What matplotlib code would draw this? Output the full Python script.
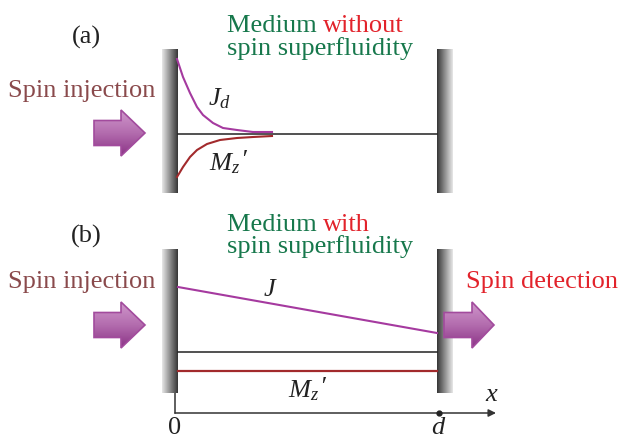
import numpy as np
import matplotlib
matplotlib.use("Agg")
import matplotlib.pyplot as plt
from matplotlib.patches import Polygon

plt.rcParams["font.family"] = "Liberation Serif"
plt.rcParams["mathtext.fontset"] = "custom"
plt.rcParams["mathtext.rm"] = "Liberation Serif"
plt.rcParams["mathtext.it"] = "Liberation Serif:italic"

# canvas is laid out in pixel units of the 621x440 picture (y grows downward)
X_LEFT, X_RIGHT = 178, 437          # inner faces of the two walls (x = 0 and x = d)
WALL_W = 16
PANEL_TOP = [49, 249]               # wall tops for (a), (b)
PANEL_BOT = [193, 393]

# (a) decaying profiles
decay_x = [177, 183, 190, 197, 203, 213, 223, 237, 253, 272]
jd_y = [59, 77, 93, 107, 115, 123, 128, 130, 132, 132]
mz_x = [177, 183, 190, 197, 207, 220, 237, 253, 272]
mz_y = [177, 167, 157, 150, 144, 140, 138, 137, 136]
baseline_a = 134

# (b) linear current and flat magnetisation
j_line_x = [178, 437]
j_line_y = [287, 333]
baseline_b = 352
mz_flat_y = 371

# spin arrows: (left x, neck x, tip x, centre y)
arrows = [(94, 121, 145, 133), (94, 121, 145, 325), (444, 472, 494, 325)]

C_GREEN = "#17784c"
C_RED = "#e2232b"
C_BROWN = "#8a4a4c"
C_J = "#a53a9f"
C_M = "#a22a2c"
C_TXT = "#222222"

fig = plt.figure(figsize=(6.21, 4.40), dpi=100)
ax = fig.add_axes([0, 0, 1, 1])
ax.set_xlim(0, 621)
ax.set_ylim(440, 0)
ax.axis("off")

# walls with shading, dark side towards the medium
grad = np.linspace(0.90, 0.22, 32).reshape(1, -1)
for top, bot in zip(PANEL_TOP, PANEL_BOT):
    ax.imshow(grad, cmap="gray", vmin=0, vmax=1, aspect="auto",
              extent=(X_LEFT - WALL_W, X_LEFT, bot, top), zorder=2)
    ax.imshow(grad[:, ::-1], cmap="gray", vmin=0, vmax=1, aspect="auto",
              extent=(X_RIGHT, X_RIGHT + WALL_W, bot, top), zorder=2)

# (a)
ax.plot([X_LEFT, X_RIGHT], [baseline_a, baseline_a], color=C_TXT, lw=1.1, zorder=3)
ax.plot(decay_x, jd_y, color=C_J, lw=1.5, zorder=3)
ax.plot(mz_x, mz_y, color=C_M, lw=1.5, zorder=3)

# (b)
ax.plot(j_line_x, j_line_y, color=C_J, lw=1.5, zorder=3)
ax.plot([X_LEFT, X_RIGHT], [baseline_b, baseline_b], color=C_TXT, lw=1.1, zorder=3)
ax.plot([X_LEFT, X_RIGHT], [mz_flat_y, mz_flat_y], color=C_M, lw=1.6, zorder=3)

# x axis under panel (b)
axis_y = 413
ax.plot([175, 175], [PANEL_BOT[1], axis_y], color="#333333", lw=1.1, zorder=1)
ax.annotate("", xy=(496, axis_y), xytext=(175, axis_y),
            arrowprops=dict(arrowstyle="-|>", color="#333333", lw=1.1,
                            mutation_scale=11, shrinkA=0, shrinkB=0))
ax.plot([X_RIGHT + 2], [axis_y], "o", color=C_TXT, ms=3.5, zorder=4)

# fat gradient arrows
arrow_grad = np.linspace(0.0, 1.0, 64).reshape(-1, 1)
cmap_arrow = matplotlib.colors.LinearSegmentedColormap.from_list(
    "arr", ["#cf97cb", "#b36cae", "#8b3486"])
for x0, xn, xt, yc in arrows:
    hb, hh = 12.5, 23
    pts = [(x0, yc - hb), (xn, yc - hb), (xn, yc - hh), (xt, yc),
           (xn, yc + hh), (xn, yc + hb), (x0, yc + hb)]
    poly = Polygon(pts, closed=True, facecolor="none", edgecolor="#a24b9d",
                   lw=1.2, zorder=6)
    ax.add_patch(poly)
    im = ax.imshow(arrow_grad, cmap=cmap_arrow, aspect="auto",
                   extent=(x0, xt, yc + hh, yc - hh), zorder=5)
    im.set_clip_path(poly)

# texts
fs = 19
ax.text(86, 44, "(a)", fontsize=fs, ha="center", va="baseline", color=C_TXT)
ax.text(86, 243, "(b)", fontsize=fs, ha="center", va="baseline", color=C_TXT)

for y1, y2, word in [(32, 55, "without"), (231, 253, "with")]:
    t1 = ax.text(227, y1, "Medium ", fontsize=fs, ha="left", va="baseline", color=C_GREEN)
    fig.canvas.draw()
    bb = t1.get_window_extent().transformed(ax.transData.inverted())
    ax.text(bb.x1, y1, word, fontsize=fs, ha="left", va="baseline", color=C_RED)
    ax.text(227, y2, "spin superfluidity", fontsize=fs, ha="left", va="baseline", color=C_GREEN)

ax.text(8, 97, "Spin injection", fontsize=fs, ha="left", va="baseline", color=C_BROWN)
ax.text(8, 288, "Spin injection", fontsize=fs, ha="left", va="baseline", color=C_BROWN)
ax.text(466, 288, "Spin detection", fontsize=fs, ha="left", va="baseline", color=C_RED)

# symbol labels; primes drawn separately so they come out as large as in the reference
ax.text(208, 105, r"$J_d$", fontsize=fs, ha="left", va="baseline", color=C_TXT)
ax.text(263, 296, r"$J$", fontsize=fs, ha="left", va="baseline", color=C_TXT)
for mx, my in [(209, 170), (288, 397)]:
    ax.text(mx, my, r"$M_z$", fontsize=fs, ha="left", va="baseline", color=C_TXT)
    ax.text(mx + 31, my - 3, "\u2032", fontsize=fs, ha="left", va="baseline",
            color=C_TXT, style="italic", family=["Liberation Serif", "DejaVu Serif"])

ax.text(175, 434, "0", fontsize=fs, ha="center", va="baseline", color=C_TXT)
ax.text(439, 434, r"$d$", fontsize=fs, ha="center", va="baseline", color=C_TXT)
ax.text(492, 401, r"$x$", fontsize=fs, ha="center", va="baseline", color=C_TXT)

fig.savefig("out.png", dpi=100)
